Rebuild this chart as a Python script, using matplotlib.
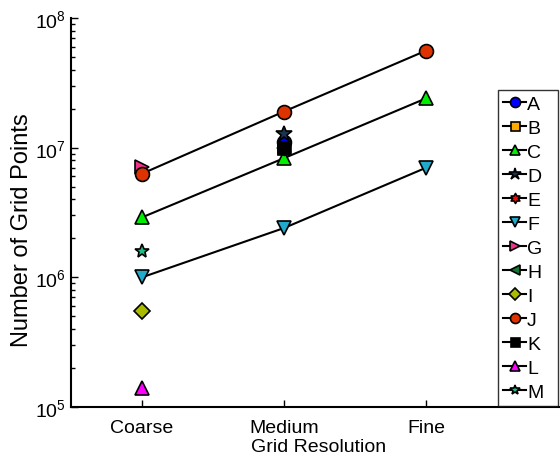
import numpy as np
import matplotlib
matplotlib.use("Agg")
import matplotlib.pyplot as plt
from matplotlib.path import Path

plt.rcParams['font.family'] = ['Liberation Sans', 'DejaVu Sans']
plt.rcParams['mathtext.fontset'] = 'custom'
plt.rcParams['mathtext.rm'] = 'Liberation Sans'

resolutions = ["Coarse", "Medium", "Fine"]
names = ["A", "B", "C", "D", "E", "F", "G", "H", "I", "J", "K", "L", "M"]

# x index (1=Coarse, 2=Medium, 3=Fine) and grid point counts per series
series_x = {
    "A": [2], "B": [2], "C": [1, 2, 3], "D": [2], "E": [2],
    "F": [1, 2, 3], "G": [1], "H": [2], "I": [1], "J": [1, 2, 3],
    "K": [2], "L": [1], "M": [1],
}
series_y = {
    "A": [1.1e7], "B": [1.0e7], "C": [2.9e6, 8.3e6, 2.4e7], "D": [1.28e7],
    "E": [1.0e7], "F": [1.0e6, 2.4e6, 7.0e6], "G": [7.1e6], "H": [1.0e7],
    "I": [5.5e5], "J": [6.3e6, 1.9e7, 5.6e7], "K": [9.8e6], "L": [1.4e5],
    "M": [1.6e6],
}

# hexagram marker (two triangles)
ang = np.linspace(np.pi / 2, np.pi / 2 + 2 * np.pi, 13)[:-1]
rad = np.where(np.arange(12) % 2 == 0, 1.0, 0.58)
hexagram = Path(np.column_stack([rad * np.cos(ang), rad * np.sin(ang)]).tolist() + [[0, 1]],
                closed=True)

styles = {
    "A": ("o", "#0000ff", 10), "B": ("s", "#ffaa00", 9), "C": ("^", "#00ee00", 10),
    "D": ("*", "#1c3350", 12), "E": (hexagram, "#ff0000", 10), "F": ("v", "#22aacc", 10),
    "G": (">", "#ee3388", 10), "H": ("<", "#117733", 10), "I": ("D", "#aabb00", 8),
    "J": ("o", "#dd3300", 10), "K": ("s", "#000000", 9), "L": ("^", "#ff00ff", 10),
    "M": ("*", "#22bb88", 10),
}

fig = plt.figure(figsize=(5.6, 4.6), dpi=100)
ax = fig.add_axes([71 / 560, 52 / 460, 497 / 560, 389 / 460])

for n in names:
    m, c, ms = styles[n]
    ax.plot(series_x[n], series_y[n], '-', color='black', lw=1.5, marker=m,
            markersize=ms, markerfacecolor=c, markeredgecolor='black',
            markeredgewidth=1.2, label=n, clip_on=False)

ax.set_yscale('log')
ax.set_ylim(1e5, 1e8)
ax.set_xlim(0.5, 4.0)
ax.set_xticks([1, 2, 3])
ax.set_xticklabels(resolutions)
ax.spines['top'].set_visible(False)
ax.spines['right'].set_visible(False)
ax.spines['left'].set_linewidth(1.5)
ax.spines['bottom'].set_linewidth(1.5)
ax.tick_params(axis='both', which='both', direction='in', labelsize=14)
ax.tick_params(axis='y', which='major', length=5, width=1, pad=4)
ax.tick_params(axis='y', which='minor', length=3, width=1)
ax.tick_params(axis='x', length=5, width=1, pad=9)

ax.set_xlabel("Grid Resolution", fontsize=14, labelpad=0)
ax.xaxis.set_label_coords(247.5 / 497, -31 / 389)
ax.set_ylabel("Number of Grid Points", fontsize=17, va='center')
ax.yaxis.set_label_coords(-49 / 497, 178 / 389)

leg = fig.legend(loc='lower left', bbox_to_anchor=(498 / 560, 53 / 460, 60 / 560, 319 / 460),
                 mode='expand', fontsize=14, frameon=True, fancybox=False,
                 edgecolor='black', handlelength=1.2, handletextpad=0.05,
                 labelspacing=0.33, borderpad=0.25, borderaxespad=0, markerscale=0.72)
leg.get_frame().set_linewidth(1.0)

fig.savefig('out.png', dpi=100)
